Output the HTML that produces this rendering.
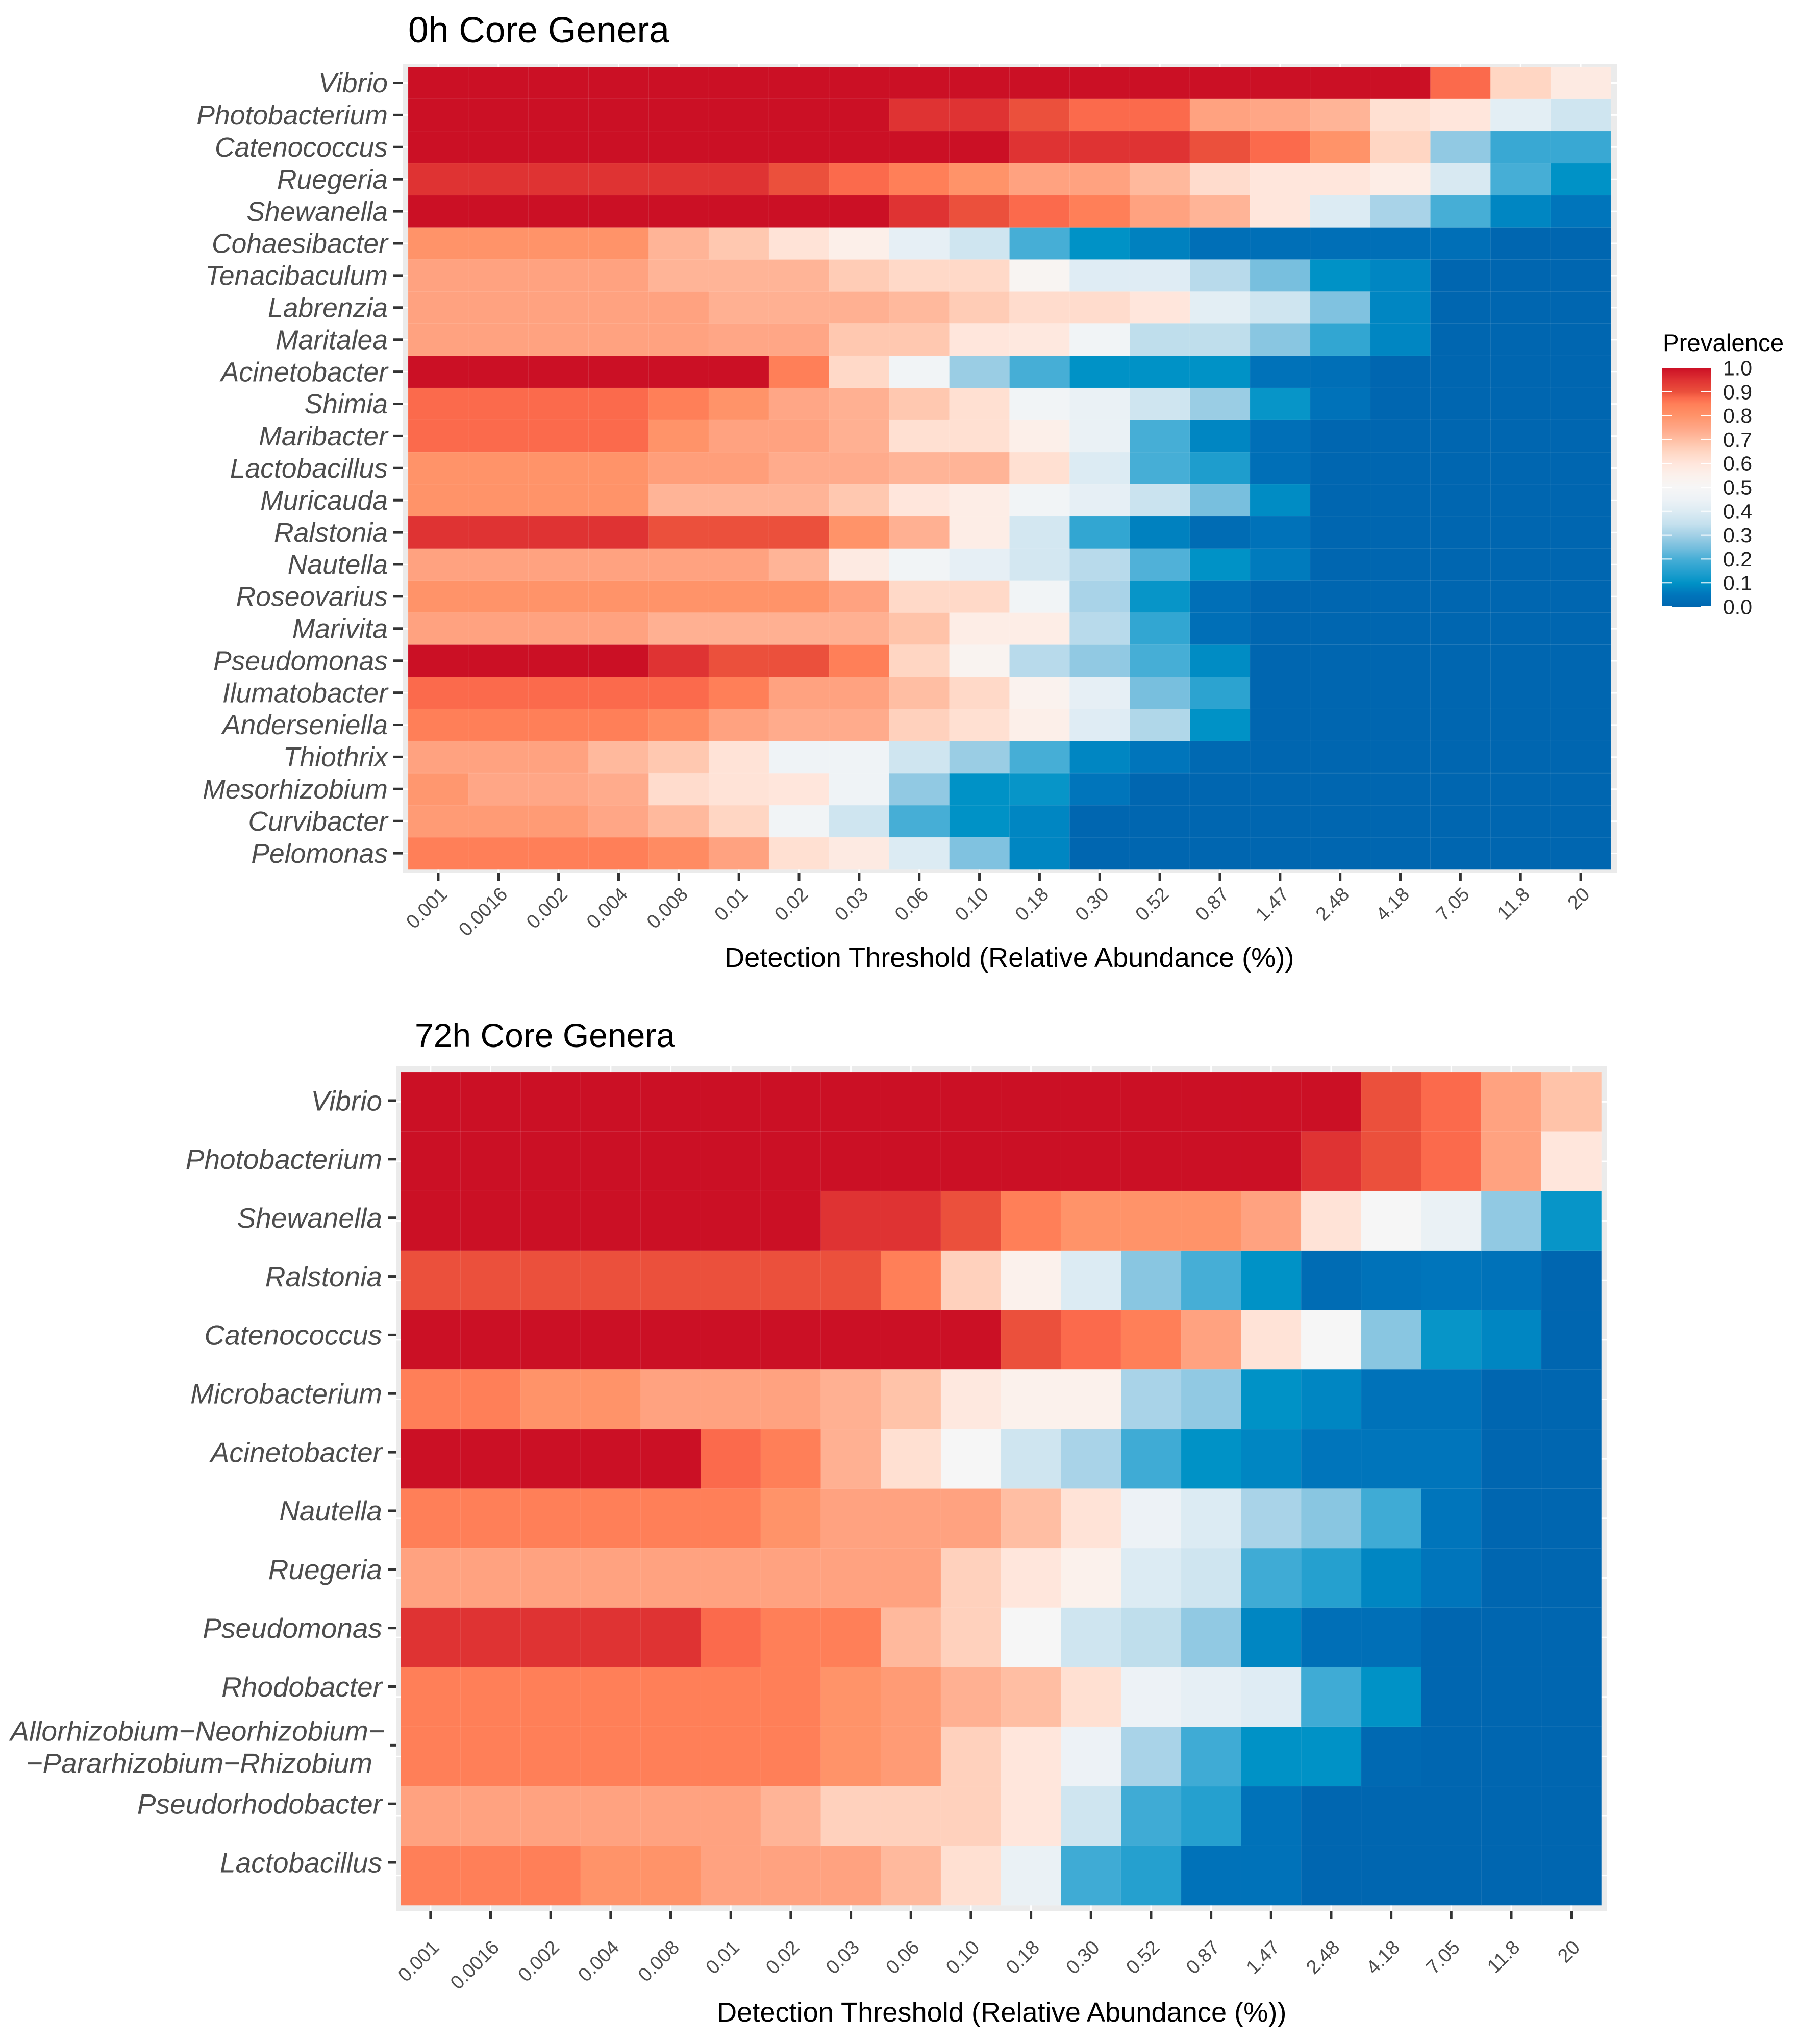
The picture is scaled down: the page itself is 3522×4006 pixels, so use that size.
<!DOCTYPE html>
<html lang="en">
<head>
<meta charset="utf-8">
<title>Core Genera Heatmaps</title>
<style>
html,body{margin:0;padding:0;background:#fff;}
svg{display:block;}
text{font-family:"Liberation Sans",sans-serif;}
</style>
</head>
<body>
<svg id="chart" xmlns="http://www.w3.org/2000/svg" width="3522" height="4006" viewBox="0 0 3522 4006"></svg>
<script>
const thresholds = ["0.001","0.0016","0.002","0.004","0.008","0.01","0.02","0.03","0.06","0.10","0.18","0.30","0.52","0.87","1.47","2.48","4.18","7.05","11.8","20"];

const genera0h = ["Vibrio","Photobacterium","Catenococcus","Ruegeria","Shewanella","Cohaesibacter","Tenacibaculum","Labrenzia","Maritalea","Acinetobacter","Shimia","Maribacter","Lactobacillus","Muricauda","Ralstonia","Nautella","Roseovarius","Marivita","Pseudomonas","Ilumatobacter","Anderseniella","Thiothrix","Mesorhizobium","Curvibacter","Pelomonas"];

const prevalence0h = [
[1,1,1,1,1,1,1,1,1,1,1,1,1,1,1,1,1,.875,.65,.58],
[1,1,1,1,1,1,1,1,.95,.95,.9,.875,.875,.76,.75,.72,.62,.6,.42,.37],
[1,1,1,1,1,1,1,1,1,1,.95,.95,.95,.9,.875,.8,.65,.28,.18,.18],
[.95,.95,.95,.95,.95,.95,.9,.875,.85,.8,.76,.76,.71,.63,.6,.6,.57,.39,.2,.1],
[1,1,1,1,1,1,1,1,.95,.9,.875,.85,.76,.72,.6,.4,.31,.2,.08,.05],
[.8,.8,.8,.8,.72,.68,.61,.56,.43,.37,.2,.1,.07,.03,.03,.03,.03,.03,0,0],
[.76,.76,.76,.76,.72,.72,.72,.67,.64,.64,.52,.41,.41,.33,.25,.1,.08,0,0,0],
[.76,.76,.76,.76,.76,.73,.73,.73,.71,.67,.63,.63,.6,.42,.37,.26,.08,0,0,0],
[.76,.76,.76,.76,.76,.75,.75,.68,.68,.6,.59,.47,.34,.34,.27,.17,.08,0,0,0],
[1,1,1,1,1,1,.85,.64,.47,.29,.2,.1,.1,.1,.04,.03,0,0,0,0],
[.875,.875,.875,.875,.85,.8,.75,.73,.68,.62,.47,.44,.37,.29,.11,.04,0,0,0,0],
[.875,.875,.875,.875,.8,.76,.76,.73,.62,.62,.56,.44,.2,.08,.03,0,0,0,0,0],
[.8,.8,.8,.8,.77,.77,.74,.74,.72,.72,.62,.4,.2,.14,.03,0,0,0,0,0],
[.8,.8,.8,.8,.72,.72,.72,.68,.6,.57,.47,.43,.36,.25,.09,0,0,0,0,0],
[.95,.95,.95,.95,.9,.9,.9,.8,.73,.57,.38,.17,.07,.02,.04,0,0,0,0,0],
[.76,.76,.76,.76,.76,.76,.72,.58,.47,.43,.38,.33,.21,.1,.06,0,0,0,0,0],
[.8,.8,.8,.8,.8,.8,.8,.76,.64,.64,.47,.31,.11,.03,0,0,0,0,0,0],
[.76,.76,.76,.76,.73,.73,.73,.73,.69,.57,.57,.33,.17,.03,0,0,0,0,0,0],
[1,1,1,1,.95,.9,.9,.85,.65,.53,.33,.28,.2,.09,0,0,0,0,0,0],
[.875,.875,.875,.875,.875,.85,.76,.76,.7,.64,.54,.43,.25,.16,0,0,0,0,0,0],
[.85,.85,.85,.85,.82,.76,.74,.74,.66,.62,.56,.41,.32,.1,0,0,0,0,0,0],
[.76,.76,.76,.71,.68,.61,.46,.46,.37,.29,.2,.08,.05,.01,0,0,0,0,0,0],
[.79,.75,.75,.74,.63,.61,.6,.46,.28,.1,.11,.05,0,0,0,0,0,0,0,0],
[.78,.78,.78,.75,.71,.65,.47,.37,.2,.1,.08,0,0,0,0,0,0,0,0,0],
[.85,.85,.85,.85,.82,.76,.62,.58,.4,.26,.08,0,0,0,0,0,0,0,0,0]
];

const genera72h = ["Vibrio","Photobacterium","Shewanella","Ralstonia","Catenococcus","Microbacterium","Acinetobacter","Nautella","Ruegeria","Pseudomonas","Rhodobacter","Allorhizobium\u2212Neorhizobium\u2212|\u2212Pararhizobium\u2212Rhizobium","Pseudorhodobacter","Lactobacillus"];

const prevalence72h = [
[1,1,1,1,1,1,1,1,1,1,1,1,1,1,1,1,.9,.875,.76,.69],
[1,1,1,1,1,1,1,1,1,1,1,1,1,1,1,.95,.9,.875,.76,.6],
[1,1,1,1,1,1,1,.95,.95,.9,.85,.8,.8,.8,.76,.61,.5,.44,.28,.11],
[.9,.9,.9,.9,.9,.9,.9,.9,.85,.66,.55,.4,.27,.2,.1,.02,.04,.05,.04,0],
[1,1,1,1,1,1,1,1,1,1,.9,.875,.85,.76,.61,.5,.27,.11,.08,0],
[.85,.85,.8,.8,.76,.76,.76,.73,.69,.59,.55,.55,.31,.28,.1,.08,.04,.04,0,0],
[1,1,1,1,1,.875,.85,.73,.62,.5,.37,.31,.19,.1,.08,.05,.05,.05,0,0],
[.85,.85,.85,.85,.85,.85,.8,.76,.76,.76,.7,.61,.45,.4,.31,.27,.19,.05,0,0],
[.76,.76,.76,.76,.76,.76,.76,.76,.76,.66,.6,.55,.4,.37,.19,.15,.08,.05,0,0],
[.95,.95,.95,.95,.95,.875,.85,.85,.71,.66,.5,.37,.34,.28,.08,.03,.03,0,0,0],
[.85,.85,.85,.85,.85,.85,.85,.8,.78,.73,.7,.62,.45,.43,.41,.19,.1,0,0,0],
[.85,.85,.85,.85,.85,.85,.85,.8,.78,.66,.6,.45,.31,.19,.1,.1,.01,0,0,0],
[.76,.76,.76,.76,.76,.76,.72,.66,.66,.66,.6,.37,.19,.15,.04,0,0,0,0,0],
[.85,.85,.85,.8,.8,.76,.76,.76,.71,.62,.44,.19,.15,.04,.04,0,0,0,0,0]
];

const legendTicks = [0,0.1,0.2,0.3,0.4,0.5,0.6,0.7,0.8,0.9,1];
const legendTickLabels = ["0.0","0.1","0.2","0.3","0.4","0.5","0.6","0.7","0.8","0.9","1.0"];

const colorStops = [0,.05,.1,.15,.2,.25,.3,.35,.4,.45,.5,.55,.6,.65,.7,.75,.8,.85,.875,.9,.95,1];
const colorRamp = ["#0066B0","#0075BB","#0092C6","#25A0CF","#46AED6","#78BFDE","#A2D0E6","#C6E1EE","#DCEBF3","#EDF2F6","#F6F6F6","#FBF1EC","#FFE6DC","#FFD6C3","#FFBEA3","#FFA686","#FF9369","#FF7F58","#FB6A4C","#EB503C","#DF3333","#CB1025"];

const svg = document.getElementById('chart');
const NS = 'http://www.w3.org/2000/svg';

function hexToRgb(h){return [parseInt(h.slice(1,3),16),parseInt(h.slice(3,5),16),parseInt(h.slice(5,7),16)];}
function colorScale(v){
  const t=Math.max(0,Math.min(1,v));
  for(let i=1;i<colorStops.length;i++){
    if(t<=colorStops[i]){
      const f=(t-colorStops[i-1])/(colorStops[i]-colorStops[i-1]);
      const a=hexToRgb(colorRamp[i-1]),b=hexToRgb(colorRamp[i]);
      return 'rgb('+a.map((c,k)=>Math.round(c+(b[k]-c)*f)).join(',')+')';
    }
  }
  return colorRamp[colorRamp.length-1];
}
function mk(tag,attrs,parent){
  const el=document.createElementNS(NS,tag);
  for(const k in attrs){el.setAttribute(k,attrs[k]);}
  (parent||svg).appendChild(el);
  return el;
}
function slug(s){return s.split('|')[0].replace(/\u2212/g,'-').toLowerCase().replace(/[^a-z0-9]+/g,'-').replace(/^-|-$/g,'');}

function drawPanel(p){
  const g=mk('g',{});
  
  
  const nx=thresholds.length,ny=p.genera.length;
  const bw=(p.right-p.left)/nx,bh=(p.bottom-p.top)/ny;
  const xBand=i=>p.left+i*bw;
  const yBand=j=>p.top+j*bh;
  const xCenter=i=>xBand(i)+bw/2;
  const yTick=j=>p.tickY0+j*p.tickStep;

  const bg=mk('rect',{x:p.pl,y:p.pt,width:p.pr-p.pl,height:p.pb-p.pt,fill:'#ebebeb'},g);
  
  

  thresholds.forEach((t,i)=>{
    const gl=mk('line',{x1:xCenter(i),x2:xCenter(i),y1:p.pt,y2:p.pb,stroke:'#fff','stroke-width':3},g);
    
    
  });
  p.genera.forEach((t,j)=>{
    const gl=mk('line',{x1:p.pl,x2:p.pr,y1:yBand(j)+bh/2,y2:yBand(j)+bh/2,stroke:'#fff','stroke-width':3},g);
    
    
  });

  p.values.forEach((row,j)=>{
    row.forEach((v,i)=>{
      const c=mk('rect',{x:xBand(i),y:yBand(j),width:bw+0.3,height:bh+0.3,fill:colorScale(v),stroke:'rgba(255,255,255,0.1)','stroke-width':1},g);
      
      
    });
  });

  thresholds.forEach((t,i)=>{
    const tick=mk('line',{x1:xCenter(i),x2:xCenter(i),y1:p.pb,y2:p.pb+p.tickLenX,stroke:'#333','stroke-width':5},g);
    
    
    const lx=xCenter(i)+p.xLabelDx,ly=p.xLabelY;
    const lab=mk('text',{x:lx,y:ly,'text-anchor':'end','font-size':38,fill:'#4d4d4d',transform:'rotate(-45 '+lx+' '+ly+')'},g);
    lab.textContent=t;
    
    
  });

  p.genera.forEach((name,j)=>{
    const y=yTick(j);
    const multi=name.indexOf('|')>=0;
    const tick=mk('line',{x1:multi?p.pl-12:p.tickX1,x2:p.pl,y1:y,y2:y,stroke:'#333','stroke-width':5},g);
    
    
    if(multi){
      const parts=name.split('|');
      const l1=mk('text',{x:p.labelX+5,y:y-9,'text-anchor':'end','font-size':p.labelSize,'font-style':'italic',fill:'#4d4d4d'},g);
      l1.textContent=parts[0];
      
      
      const l2=mk('text',{x:p.labelX-19,y:y+54,'text-anchor':'end','font-size':p.labelSize,'font-style':'italic',fill:'#4d4d4d'},g);
      l2.textContent=parts[1];
      
      
    }else{
      const l=mk('text',{x:p.labelX,y:y+p.labelSize*0.35,'text-anchor':'end','font-size':p.labelSize,'font-style':'italic',fill:'#4d4d4d'},g);
      l.textContent=name;
      
      
    }
  });

  const title=mk('text',{x:p.titleX,y:p.titleY,'font-size':p.titleSize,fill:'#000'},g);
  title.textContent=p.title;
  
  

  const xt=mk('text',{x:p.xTitleX,y:p.xTitleY,'font-size':54.2,fill:'#000'},g);
  xt.textContent='Detection Threshold (Relative Abundance (%))';
  
  
}

drawPanel({id:'hour-0',title:'0h Core Genera',genera:genera0h,values:prevalence0h,
  left:800,right:3157,top:131,bottom:1704,pl:789,pr:3170,pt:125,pb:1710,
  tickY0:162.5,tickStep:62.9,tickLenX:16,tickX1:771,labelX:760,labelSize:53.5,
  xLabelDx:20,xLabelY:1755,titleX:800,titleY:83,titleSize:71.4,xTitleX:1420,xTitleY:1895});

drawPanel({id:'hour-72',title:'72h Core Genera',genera:genera72h,values:prevalence72h,
  left:785,right:3138.5,top:2101,bottom:3734,pl:776,pr:3150,pt:2089,pb:3745,
  tickY0:2157,tickStep:114.85,tickLenX:16,tickX1:760,labelX:749,labelSize:55,
  xLabelDx:19,xLabelY:3819,titleX:813,titleY:2052,titleSize:66,xTitleX:1405,xTitleY:3962});

function drawLegend(){
  const g=mk('g',{});
  
  
  const x0=3258,w=95,yTop=721,yBot=1189;
  const yScale=v=>yBot-(yBot-yTop)*v;
  const t=mk('text',{x:3259,y:688,'font-size':47.4,fill:'#000'},g);
  t.textContent='Prevalence';
  
  
  const steps=234;
  for(let s=0;s<steps;s++){
    const v0=s/steps,v1=(s+1)/steps;
    const r=mk('rect',{x:x0,y:yScale(v1),width:w,height:yScale(v0)-yScale(v1)+0.5,fill:colorScale((v0+v1)/2)},g);
    
    
  }
  legendTicks.forEach((v,i)=>{
    const y=yScale(v);
    const a=mk('line',{x1:x0,x2:x0+19,y1:y,y2:y,stroke:'#fff','stroke-width':2},g);
    
    
    const b=mk('line',{x1:x0+w-19,x2:x0+w,y1:y,y2:y,stroke:'#fff','stroke-width':2},g);
    
    
    const l=mk('text',{x:3377,y:y+14.5,'font-size':41,fill:'#222'},g);
    l.textContent=legendTickLabels[i];
    
    
  });
}
drawLegend();
</script>
</body>
</html>
